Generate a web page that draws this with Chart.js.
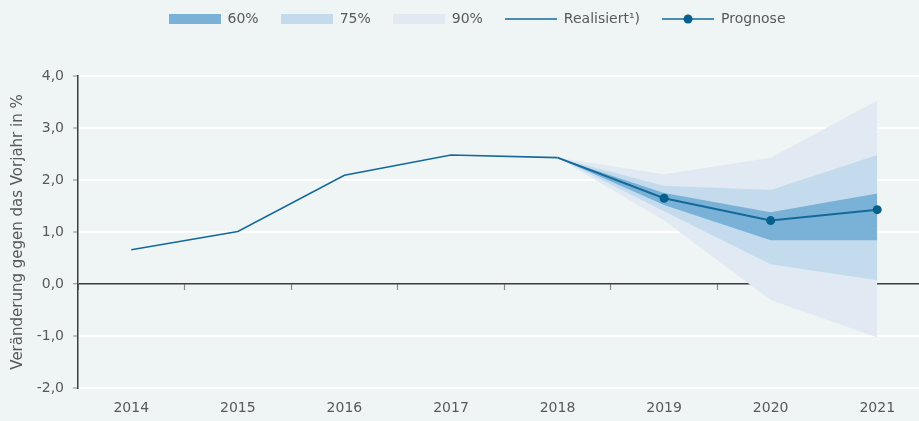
<!DOCTYPE html>
<html lang="de">
<head>
    <meta charset="UTF-8">
    <title>Prognose Veränderung gegen das Vorjahr</title>
    <script src="https://cdn.jsdelivr.net/npm/chart.js"></script>
    <style>
        html, body {
            margin: 0;
            padding: 0;
            overflow: hidden;
            background: #eff5f5;
        }
        .chart-container {
            position: relative;
            width: 935px;
            height: 421px;
        }
    </style>
</head>
<body>
    <div class="chart-container">
        <canvas id="fanChart"></canvas>
    </div>

    <script>
        // Jahre und Werte
        const years = ['2014', '2015', '2016', '2017', '2018', '2019', '2020', '2021'];
        const realisiert = [0.66, 1.01, 2.09, 2.48, 2.43, null, null, null];
        const prognose = [null, null, null, null, 2.43, 1.65, 1.22, 1.43];

        // Unsicherheitsbänder
        const band60Upper = [null, null, null, null, 2.43, 1.75, 1.38, 1.74];
        const band60Lower = [null, null, null, null, 2.43, 1.52, 0.84, 0.84];
        const band75Upper = [null, null, null, null, 2.43, 1.89, 1.81, 2.48];
        const band75Lower = [null, null, null, null, 2.43, 1.40, 0.38, 0.07];
        const band90Upper = [null, null, null, null, 2.43, 2.11, 2.43, 3.53];
        const band90Lower = [null, null, null, null, 2.43, 1.22, -0.31, -1.03];

        const yTicks = [-2, -1, 0, 1, 2, 3, 4];

        const lineColor = '#15699a';
        const dotColor = '#065f8c';
        const c60 = '#7ab1d7';
        const c75 = '#c3dbed';
        const c90 = '#e1eaf3';
        const textColor = '#595959';
        const fontFamily = '"DejaVu Sans", sans-serif';

        // small canvases used as legend symbols
        function legendSymbol(kind, color) {
            const c = document.createElement('canvas');
            c.width = 52;
            c.height = 10;
            const g = c.getContext('2d');
            if (kind === 'box') {
                g.fillStyle = color;
                g.fillRect(0, 0, 52, 10);
            } else {
                g.strokeStyle = color;
                g.lineWidth = 1.5;
                g.beginPath();
                g.moveTo(0, 5);
                g.lineTo(52, 5);
                g.stroke();
                if (kind === 'dot') {
                    g.fillStyle = dotColor;
                    g.beginPath();
                    g.arc(26, 5, 4.5, 0, Math.PI * 2);
                    g.fill();
                }
            }
            return c;
        }

        const legendItems = [
            { text: '60%', pointStyle: legendSymbol('box', c60) },
            { text: '75%', pointStyle: legendSymbol('box', c75) },
            { text: '90%', pointStyle: legendSymbol('box', c90) },
            { text: 'Realisiert¹)', pointStyle: legendSymbol('line', lineColor) },
            { text: 'Prognose', pointStyle: legendSymbol('dot', lineColor) }
        ];

        // move the legend to where it sits in the original
        const legendShift = {
            id: 'legendShift',
            afterLayout(chart) {
                const lg = chart.legend;
                if (!lg || !lg.lineWidths) return;
                const pad = lg.options.labels.padding;
                const firstX = (lg.left + pad + lg.right - lg.lineWidths[0]) / 2;
                const span = lg.lineWidths[0] - 2 * pad;
                const dx = 466 - (firstX + span / 2);
                const dy = -40;
                lg.left += dx; lg.right += dx;
                lg.top += dy; lg.bottom += dy;
            }
        };

        function bandSet(label, data, color, fill) {
            return {
                label: label,
                data: data,
                borderWidth: 0,
                borderColor: 'rgba(0,0,0,0)',
                backgroundColor: color,
                pointRadius: 0,
                fill: fill,
                tension: 0
            };
        }

        const ctx = document.getElementById('fanChart').getContext('2d');
        new Chart(ctx, {
            type: 'line',
            data: {
                labels: years,
                datasets: [
                    {
                        label: 'Prognose',
                        data: prognose,
                        borderColor: lineColor,
                        borderWidth: 2,
                        pointRadius: prognose.map((v, i) => (i > 4 ? 4.5 : 0)),
                        pointBackgroundColor: dotColor,
                        pointBorderWidth: 0,
                        fill: false,
                        tension: 0
                    },
                    {
                        label: 'Realisiert¹)',
                        data: realisiert,
                        borderColor: lineColor,
                        borderWidth: 1.6,
                        pointRadius: 0,
                        fill: false,
                        tension: 0
                    },
                    bandSet('60% oben', band60Upper, c60, '+1'),
                    bandSet('60% unten', band60Lower, c60, false),
                    bandSet('75% oben', band75Upper, c75, '+1'),
                    bandSet('75% unten', band75Lower, c75, false),
                    bandSet('90% oben', band90Upper, c90, '+1'),
                    bandSet('90% unten', band90Lower, c90, false)
                ]
            },
            options: {
                responsive: true,
                maintainAspectRatio: false,
                animation: false,
                layout: {
                    padding: { left: 0, right: 0, top: 30, bottom: 0 }
                },
                plugins: {
                    tooltip: { enabled: false },
                    legend: {
                        position: 'top',
                        labels: {
                            usePointStyle: true,
                            pointStyleWidth: 52,
                            boxHeight: 10,
                            padding: 22,
                            color: textColor,
                            font: { family: fontFamily, size: 14 },
                            generateLabels: () => legendItems.map(item => ({
                                text: item.text,
                                pointStyle: item.pointStyle,
                                fontColor: textColor,
                                hidden: false,
                                lineWidth: 0
                            }))
                        },
                        onClick: null
                    }
                },
                scales: {
                    x: {
                        type: 'category',
                        offset: true,
                        grid: { display: false, drawTicks: false },
                        border: { display: false },
                        ticks: {
                            color: textColor,
                            padding: 12,
                            font: { family: fontFamily, size: 14 }
                        },
                        afterFit: (scale) => { scale.height = 33; }
                    },
                    x2: {
                        type: 'category',
                        axis: 'x',
                        labels: years,
                        position: { y: 0 },
                        offset: true,
                        grid: {
                            offset: true,
                            drawOnChartArea: false,
                            drawTicks: true,
                            tickLength: 6,
                            tickColor: '#8a8a8a',
                            tickWidth: 1.2
                        },
                        border: { display: false },
                        ticks: { display: false }
                    },
                    y: {
                        min: -2,
                        max: 4,
                        afterBuildTicks: (scale) => {
                            scale.ticks = yTicks.map(v => ({ value: v }));
                        },
                        ticks: {
                            color: textColor,
                            padding: 9,
                            font: { family: fontFamily, size: 14 },
                            callback: (v) => v.toFixed(1).replace('.', ',')
                        },
                        grid: {
                            color: (c) => (c.tick && c.tick.value === 0 ? '#3d3d3d' : '#ffffff'),
                            lineWidth: (c) => (c.tick && c.tick.value === 0 ? 1.5 : 2),
                            tickColor: '#8a8a8a',
                            tickWidth: 1,
                            tickLength: 5
                        },
                        border: { color: '#3d3d3d', width: 1.5 },
                        title: {
                            display: true,
                            text: 'Veränderung gegen das Vorjahr in %',
                            color: textColor,
                            font: { family: fontFamily, size: 15 },
                            padding: { top: 9, bottom: 0 }
                        },
                        afterFit: (scale) => { scale.width = 78; }
                    }
                }
            },
            plugins: [legendShift]
        });
    </script>
</body>
</html>
